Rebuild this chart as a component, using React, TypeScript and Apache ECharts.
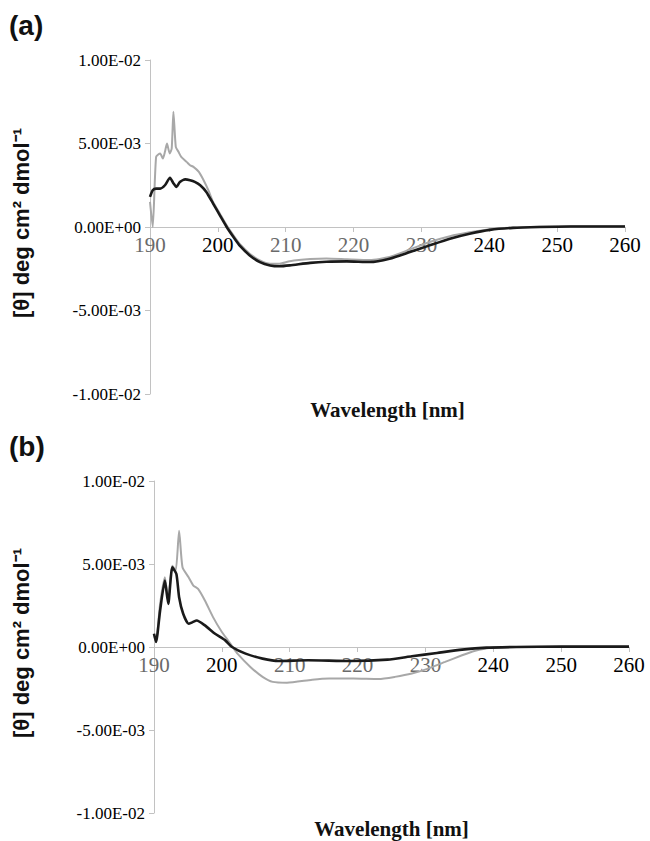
import React, { useEffect, useRef } from "react";
import * as echarts from "echarts";

// Wavelength (nm) and ellipticity values (x 1e-3 deg cm2 dmol-1)
const aBlackX = [190.0, 190.4, 190.9, 191.5, 192.2, 192.95, 193.4, 193.9, 194.4, 195.2, 195.9, 196.6, 197.4, 198.3, 199.3, 200.3, 201.3, 202.3, 203.3, 204.7, 206.2, 207.7, 209.1, 210.6, 213.6, 216, 219, 222.4, 225.3, 228.3, 231.2, 234.2, 237.1, 240.1, 243.5, 247.4, 252, 256, 260];
const aBlackY = [1.8, 2.2, 2.3, 2.3, 2.5, 2.95, 2.65, 2.4, 2.7, 2.85, 2.8, 2.7, 2.5, 2.1, 1.4, 0.7, 0.0, -0.6, -1.15, -1.7, -2.1, -2.3, -2.35, -2.3, -2.15, -2.08, -2.06, -2.1, -1.9, -1.5, -1.1, -0.7, -0.4, -0.17, -0.05, 0.0, 0.03, 0.03, 0.03];

const aGrayX = [190.0, 190.4, 190.9, 191.5, 191.9, 192.2, 192.5, 192.9, 193.2, 193.45, 193.8, 194.2, 194.6, 195.4, 195.9, 196.4, 197.2, 197.9, 198.6, 199.3, 200.3, 201.3, 202.3, 203.3, 204.7, 206.2, 207.7, 209.1, 210.6, 213.6, 216, 219, 222.4, 225.3, 228.3, 231.2, 234.2, 237.1, 240.1, 243.5, 247.4, 252, 256, 260];
const aGrayY = [1.5, 0.0, 4.2, 4.4, 4.1, 4.5, 5.0, 4.4, 4.7, 6.9, 4.8, 4.5, 4.2, 3.9, 3.7, 3.6, 3.3, 2.8, 2.2, 1.5, 0.8, 0.1, -0.5, -1.05, -1.6, -2.0, -2.2, -2.2, -2.05, -1.92, -1.88, -1.93, -1.98, -1.8, -1.35, -0.9, -0.55, -0.32, -0.13, -0.03, 0.02, 0.04, 0.04, 0.04];

const bBlackX = [190.0, 190.3, 190.9, 191.6, 192.1, 192.7, 193.3, 193.7, 194.3, 195.1, 195.7, 196.3, 197.5, 199.0, 200.5, 201.5, 203.5, 206.0, 208.4, 212.7, 218.8, 224.4, 228, 231.7, 235.4, 239, 243.4, 250, 260];
const bBlackY = [0.8, 0.3, 2.2, 4.0, 2.6, 4.8, 4.4, 3.0, 2.0, 1.4, 1.5, 1.6, 1.3, 0.8, 0.4, 0.0, -0.4, -0.7, -0.84, -0.8, -0.84, -0.76, -0.56, -0.36, -0.16, -0.04, 0.0, 0.02, 0.02];

const bGrayX = [190.0, 190.3, 190.9, 191.6, 192.1, 192.7, 193.2, 193.7, 194.2, 195.1, 195.8, 196.5, 197.5, 198.7, 200.0, 200.9, 201.6, 202.3, 204.2, 206.0, 207.5, 209.6, 213.3, 215.8, 219.4, 223.1, 225.5, 228, 230.4, 232.9, 235.4, 237.2, 239.6, 243, 250, 260];
const bGrayY = [0.8, 0.3, 2.6, 4.2, 2.8, 4.9, 4.6, 7.0, 4.8, 4.2, 3.7, 3.5, 2.8, 1.8, 0.9, 0.4, 0.0, -0.4, -1.2, -1.8, -2.1, -2.15, -1.97, -1.9, -1.9, -1.93, -1.8, -1.6, -1.3, -0.9, -0.5, -0.24, -0.04, 0.0, 0.02, 0.02];

const yTickLabels = ["-1.00E-02", "-5.00E-03", "0.00E+00", "5.00E-03", "1.00E-02"];
const fadedXLabels = [190, 210, 220, 230];
const panelLabels = ["(a)", "(b)"];
const xAxisTitle = "Wavelength [nm]";
const yAxisTitle = "[θ] deg cm² dmol⁻¹";

const pairs = (xs: number[], ys: number[]) => xs.map((x, i) => [x, ys[i] * 1e-3]);

const AXIS_COLOR = "#c2c2c2";
const SERIF = "Liberation Serif";
const SANS = "Liberation Sans";

export default function App() {
  const ref = useRef<HTMLDivElement>(null);
  useEffect(() => {
    document.body.style.margin = "0";
    if (!ref.current) return;
    const chart = echarts.init(ref.current, null, { renderer: "svg" });

    const grids = [
      { left: 150, top: 60, width: 475, height: 334 },
      { left: 154, top: 481, width: 475, height: 332 },
    ];

    const xLabelStyle = { fontFamily: SERIF, fontSize: 21, fontWeight: "normal", color: "#000" };
    const yLabelStyle = { fontFamily: SERIF, fontSize: 17, fontWeight: "normal", color: "#000" };

    // x axis sits on the zero line (middle of the symmetric y range)
    const xAxes = grids.map((g, i) => ({
      gridIndex: i,
      type: "value",
      min: 190,
      max: 260,
      interval: 10,
      position: "bottom",
      offset: -g.height / 2,
      axisLine: { show: true, onZero: false, lineStyle: { color: AXIS_COLOR, width: 1 } },
      axisTick: { show: true, length: 5, lineStyle: { color: AXIS_COLOR } },
      axisLabel: {
        ...xLabelStyle,
        margin: 7,
        showMinLabel: true,
        showMaxLabel: true,
        formatter: (v: number) => (fadedXLabels.includes(v) ? `{g|${v}}` : `{t|${v}}`),
        rich: { t: { ...xLabelStyle }, g: { ...xLabelStyle, color: "#6a6a6a" } },
      },
      splitLine: { show: false },
    }));

    const yAxes = grids.map((_, i) => ({
      gridIndex: i,
      type: "value",
      min: -0.01,
      max: 0.01,
      interval: 0.005,
      axisLine: { show: true, onZero: false, lineStyle: { color: AXIS_COLOR, width: 1 } },
      axisTick: { show: true, length: 5, lineStyle: { color: AXIS_COLOR } },
      axisLabel: {
        ...yLabelStyle,
        margin: 9,
        formatter: (v: number) => `{t|${yTickLabels[Math.round((v + 0.01) / 0.005)] ?? ""}}`,
        rich: { t: { ...yLabelStyle } },
      },
      splitLine: { show: false },
    }));

    const mkSeries = (xs: number[], ys: number[], idx: number, color: string, width: number, z: number) => ({
      type: "line",
      xAxisIndex: idx,
      yAxisIndex: idx,
      data: pairs(xs, ys),
      showSymbol: false,
      smooth: 0.2,
      z,
      lineStyle: { color, width },
    });

    const graphic: any[] = [];
    grids.forEach((g, i) => {
      graphic.push({
        type: "text",
        left: 9,
        top: g.top - 49,
        style: { text: panelLabels[i], font: `bold 28px ${SANS}`, fill: "#111" },
      });
      graphic.push({
        type: "text",
        x: 21,
        y: g.top + g.height / 2 - 4,
        rotation: Math.PI / 2,
        style: { text: yAxisTitle, font: `bold 22px ${SANS}`, fill: "#111", align: "center", verticalAlign: "middle" },
      });
      graphic.push({
        type: "text",
        x: g.left + g.width / 2,
        y: g.top + g.height + 16,
        style: { text: xAxisTitle, font: `bold 21px ${SERIF}`, fill: "#111", align: "center", verticalAlign: "middle" },
      });
    });

    chart.setOption({
      animation: false,
      backgroundColor: "#ffffff",
      textStyle: { fontFamily: SERIF },
      grid: grids,
      xAxis: xAxes,
      yAxis: yAxes,
      series: [
        mkSeries(aGrayX, aGrayY, 0, "#a8a8a8", 2, 2),
        mkSeries(aBlackX, aBlackY, 0, "#1a1a1a", 2.6, 3),
        mkSeries(bGrayX, bGrayY, 1, "#a8a8a8", 2, 2),
        mkSeries(bBlackX, bBlackY, 1, "#1a1a1a", 2.6, 3),
      ],
      graphic,
    });
    return () => chart.dispose();
  }, []);
  return <div ref={ref} style={{ width: 650, height: 841 }} />;
}
